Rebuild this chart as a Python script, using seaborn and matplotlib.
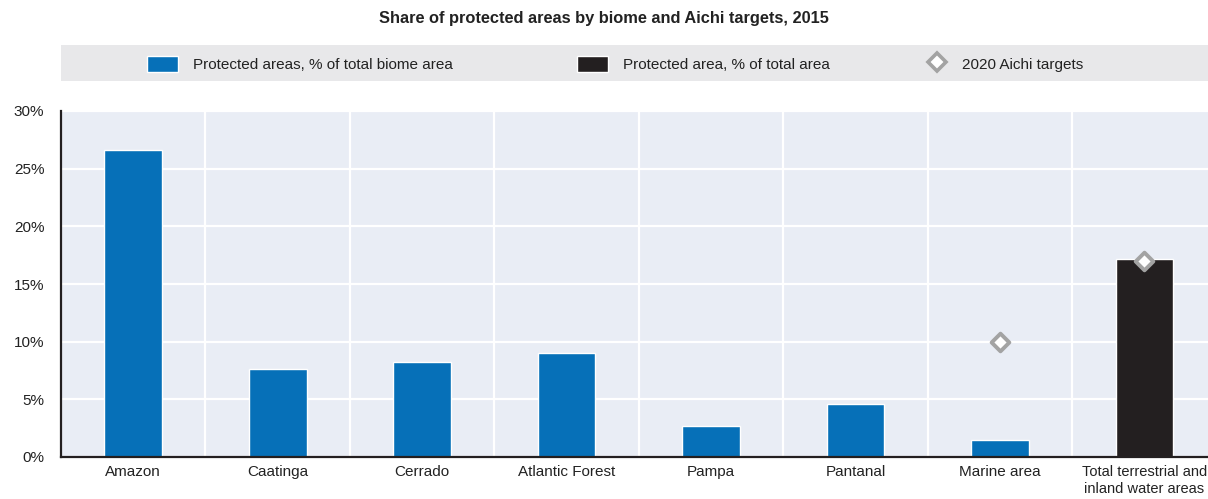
import matplotlib
matplotlib.use("Agg")
import matplotlib.pyplot as plt
import numpy as np
import pandas as pd
import seaborn as sns
from matplotlib.lines import Line2D
from matplotlib.patches import Patch, Rectangle

CATEGORIES = ["Amazon", "Caatinga", "Cerrado", "Atlantic Forest", "Pampa",
              "Pantanal", "Marine area", "Total terrestrial and\ninland water areas"]
SHARE = [26.6, 7.6, 8.2, 9.0, 2.7, 4.6, 1.5, 17.2]
KIND = ["biome"] * 7 + ["total"]
TARGETS = [np.nan, np.nan, np.nan, np.nan, np.nan, np.nan, 10.0, 17.0]
YTICKS = [0, 5, 10, 15, 20, 25, 30]

BLUE = "#0670b8"
BLACK = "#231f20"
GREY = "#a3a3a3"
BG = "#e9edf5"

sns.set_style("white")
plt.rcParams["font.family"] = ["Liberation Sans", "DejaVu Sans"]

df = pd.DataFrame({"cat": CATEGORIES, "v": SHARE, "kind": KIND, "target": TARGETS})

fig = plt.figure(figsize=(12.08, 4.99), dpi=100)
ax = fig.add_axes([61 / 1208, 1 - 457 / 499, 1 - 61 / 1208, (457 - 111) / 499])
ax.set_facecolor(BG)

sns.barplot(data=df, x="cat", y="v", hue="kind", order=CATEGORIES,
            palette={"biome": BLUE, "total": BLACK}, dodge=False, width=0.4,
            legend=False, saturation=1, ax=ax, zorder=3)
tg = df.dropna(subset=["target"])
sns.stripplot(data=tg, x="cat", y="target", order=CATEGORIES, jitter=False,
              marker="D", size=9, color="white", edgecolor=GREY, linewidth=2.8,
              ax=ax, zorder=5)

ax.set_ylim(0, 30)
ax.set_yticks(YTICKS)
ax.set_yticklabels([f"{t}%" for t in YTICKS])
ax.set_xlim(-0.5, 7.44)
ax.set_xticks(np.arange(0.5, 7.5, 1.0), minor=True)
ax.set_xlabel("")
ax.set_ylabel("")

ax.grid(axis="y", color="white", lw=1.6, zorder=1)
ax.grid(axis="x", which="minor", color="white", lw=1.6, zorder=1)
ax.set_axisbelow(True)
for s in ["top", "right"]:
    ax.spines[s].set_visible(False)
for s in ["left", "bottom"]:
    ax.spines[s].set_color(BLACK)
    ax.spines[s].set_linewidth(1.6)
    ax.spines[s].set_zorder(6)
ax.tick_params(axis="x", which="major", length=0, labelsize=11, pad=6, colors="#222")
ax.tick_params(axis="x", which="minor", direction="in", length=5, width=1.4, color=BLACK)
ax.tick_params(axis="y", direction="in", length=5, width=1.3, color=BLACK,
               labelsize=11, pad=12, labelcolor="#222")
for lab in ax.get_yticklabels():
    lab.set_horizontalalignment("right")
ax.get_xticklabels()[-1].set_fontsize(10.5)

fig.text(0.5, 1 - 19 / 499, "Share of protected areas by biome and Aichi targets, 2015",
         ha="center", va="center", fontsize=11.8, fontweight="bold", color="#222")

fig.patches.append(Rectangle((61 / 1208, 1 - 81 / 499), 1 - 61 / 1208, 36 / 499,
                             transform=fig.transFigure, facecolor="#e8e8ea",
                             edgecolor="none", zorder=0))

items = [
    (Patch(facecolor=BLUE), "Protected areas, % of total biome area", 147, 1.0),
    (Patch(facecolor=BLACK), "Protected area, % of total area", 577, 1.0),
    (Line2D([], [], marker="D", ls="", markersize=9, markerfacecolor="white",
            markeredgecolor=GREY, markeredgewidth=2.6), "2020 Aichi targets", 922, 0.6),
]
for h, t, xp, tp in items:
    lg = fig.legend([h], [t], loc="center left", bbox_to_anchor=(xp / 1208, 1 - 64 / 499),
                    frameon=False, fontsize=11, handlelength=2.0, handleheight=1.3,
                    handletextpad=tp, borderaxespad=0, borderpad=0)
    for txt in lg.get_texts():
        txt.set_color("#222")

fig.savefig("out.png", dpi=100)
